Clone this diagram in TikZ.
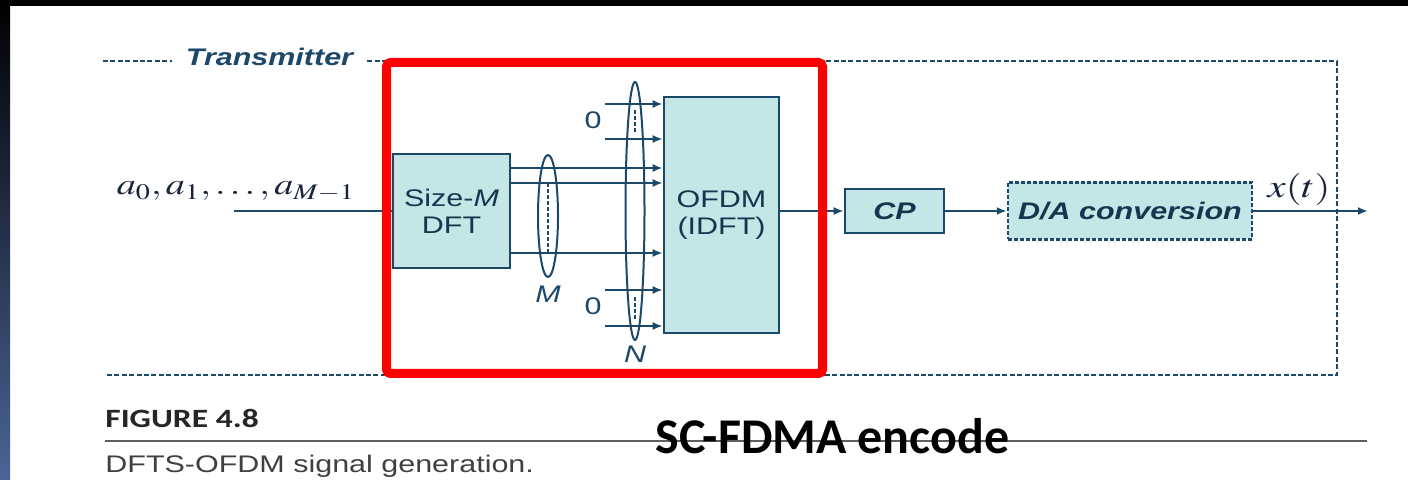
\documentclass[tikz,border=0pt]{standalone}
\usepackage{mathptmx}
\usepackage[no-math]{fontspec}
\usepackage{graphicx}
\usetikzlibrary{arrows.meta,positioning,shapes.geometric}
\newfontfamily\figsans[FakeStretch=1.27]{Liberation Sans}
\newfontfamily\figcond[FakeStretch=1.27]{Carlito}
\newfontfamily\slidesans{Carlito}
\definecolor{sigBlue}{RGB}{28,72,105}
\definecolor{boxCyan}{RGB}{197,230,230}
\definecolor{inkNavy}{RGB}{25,35,60}
\definecolor{capGray}{RGB}{95,95,95}
\definecolor{slateBlue}{RGB}{75,100,150}
\newcommand{\wmath}[1]{\scalebox{1.27}[1]{#1}}

\begin{document}
\begin{tikzpicture}[x=0.5pt,y=-0.5pt,
    sig/.style={draw=sigBlue, line width=1pt},
    tip/.style={-{Latex[length=5pt,width=4pt]}},
    blk/.style={draw=sigBlue, fill=boxCyan, line width=1.3pt, inner sep=0pt, align=center,
      text=sigBlue!75!black, font=\figsans\fontsize{12}{13.5}\selectfont},
    bblk/.style={blk, font=\figsans\bfseries\itshape\fontsize{12}{14}\selectfont},
    grp/.style={ellipse, draw=sigBlue, line width=1pt, inner sep=0pt},
    gap/.style={draw=sigBlue, line width=1.3pt, dash pattern=on 2pt off 1pt},
    frame/.style={draw=sigBlue, line width=1pt, dash pattern=on 2.5pt off 1.2pt},
    lbl/.style={inner sep=0pt, text=sigBlue, font=\figsans\fontsize{12}{14}\selectfont}]
  \useasboundingbox (0,0) rectangle (1408,480);
  \fill[white] (0,0) rectangle (1408,480);
  \fill[black] (0,0) rectangle (1408,6);
  \shade[top color=black, bottom color=slateBlue] (0,0) rectangle (10,480);

  % transmitter frame
  \node[lbl, font=\figsans\bfseries\itshape\fontsize{12}{14}\selectfont, inner xsep=7pt] (tx) at (269.5,57) {Transmitter};
  \coordinate (ftl) at (103,61);
  \coordinate (ftr) at (1337,61);
  \coordinate (fbr) at (1337,375);
  \coordinate (fbl) at (105,375);
  \draw[frame] (ftl) -- (tx.west |- ftl);
  \draw[frame] (tx.east |- ftl) -- (ftr) -- (fbr) -- (fbl);

  % blocks
  \node[blk, minimum width=58.5pt, minimum height=57pt] (dft) at (451.5,211) {Size-\textit{M}\\DFT};
  \node[blk, minimum width=57.5pt, minimum height=118pt] (ofdm) at (721.5,215) {OFDM\\(IDFT)};
  \node[bblk, minimum width=49.5pt, minimum height=22pt] (cp) at (894.5,211) {CP};
  \node[bblk, dash pattern=on 2pt off 1pt, line width=1.2pt, minimum width=122pt, minimum height=28.5pt] (da) at (1130,211) {D/A conversion};

  % groups
  \node[grp, minimum width=10pt, minimum height=61pt] (mgrp) at (548,216) {};
  \node[grp, minimum width=9.5pt, minimum height=129pt] (ngrp) at (635,211) {};
  \node[lbl, below=4pt of mgrp] (mlab) {\itshape M};
  \node[lbl, below=2.5pt of ngrp] (nlab) {\itshape N};

  % DFT outputs
  \coordinate (m1) at (548,168);
  \coordinate (m2) at (548,183);
  \coordinate (m3) at (548,253);
  \foreach \c in {m1,m2,m3}
    \draw[sig,tip] (dft.east |- \c) -- (ofdm.west |- \c);
  \draw[gap] (m2) -- (m3);

  % zero inputs
  \coordinate (z1) at (605,104);
  \coordinate (z2) at (605,139);
  \coordinate (z3) at (605,290);
  \coordinate (z4) at (605,326);
  \foreach \c in {z1,z2,z3,z4}
    \draw[sig,tip] (\c) -- (ofdm.west |- \c);
  \node[lbl] (zt) at (593,120) {0};
  \node[lbl] (zb) at (593,306) {0};
  \coordinate (n1) at (635,110);
  \coordinate (n2) at (635,133);
  \coordinate (n3) at (635,297);
  \coordinate (n4) at (635,320);
  \draw[gap, line width=1pt] (n1) -- (n2);
  \draw[gap, line width=1pt] (n3) -- (n4);

  % chain
  \coordinate (xin) at (234,211);
  \coordinate (xout) at (1368,211);
  \draw[sig] (xin) -- (dft.west);
  \draw[sig,tip] (ofdm.east |- cp.west) -- (cp.west);
  \draw[sig,tip] (cp.east) -- (da.west);
  \draw[sig,tip] (da.east) -- (xout);
  \node[anchor=base, inner sep=0pt, text=inkNavy, font=\fontsize{15}{18}\selectfont] (ain) at (236,195) {\wmath{$a_0, a_1, \ldots, a_{M-1}$}};
  \node[anchor=base, inner sep=0pt, text=inkNavy, font=\fontsize{16}{18}\selectfont] (xt) at (1299,198) {\wmath{$x(t)$}};

  % caption
  \coordinate (cl) at (105,441);
  \coordinate (cr) at (1367,441);
  \draw[capGray, line width=1pt] (cl) -- (cr);
  \node[anchor=base west, inner sep=0pt, text=black!85, font=\figcond\bfseries\fontsize{13.2}{15}\selectfont] (fig) at (105,428) {FIGURE 4.8};
  \node[anchor=base west, inner sep=0pt, text=black!75, font=\figsans\fontsize{12}{14}\selectfont] (cap) at (105,473) {DFTS-OFDM signal generation.};

  % highlight
  \draw[red, line width=4.5pt, rounded corners=2pt] (386.5,62.5) rectangle (822.5,373.5);
  \node[anchor=base west, inner sep=0pt, font=\slidesans\bfseries\fontsize{25}{29}\selectfont] (enc) at (655,453) {SC-FDMA encode};
\end{tikzpicture}
\end{document}
